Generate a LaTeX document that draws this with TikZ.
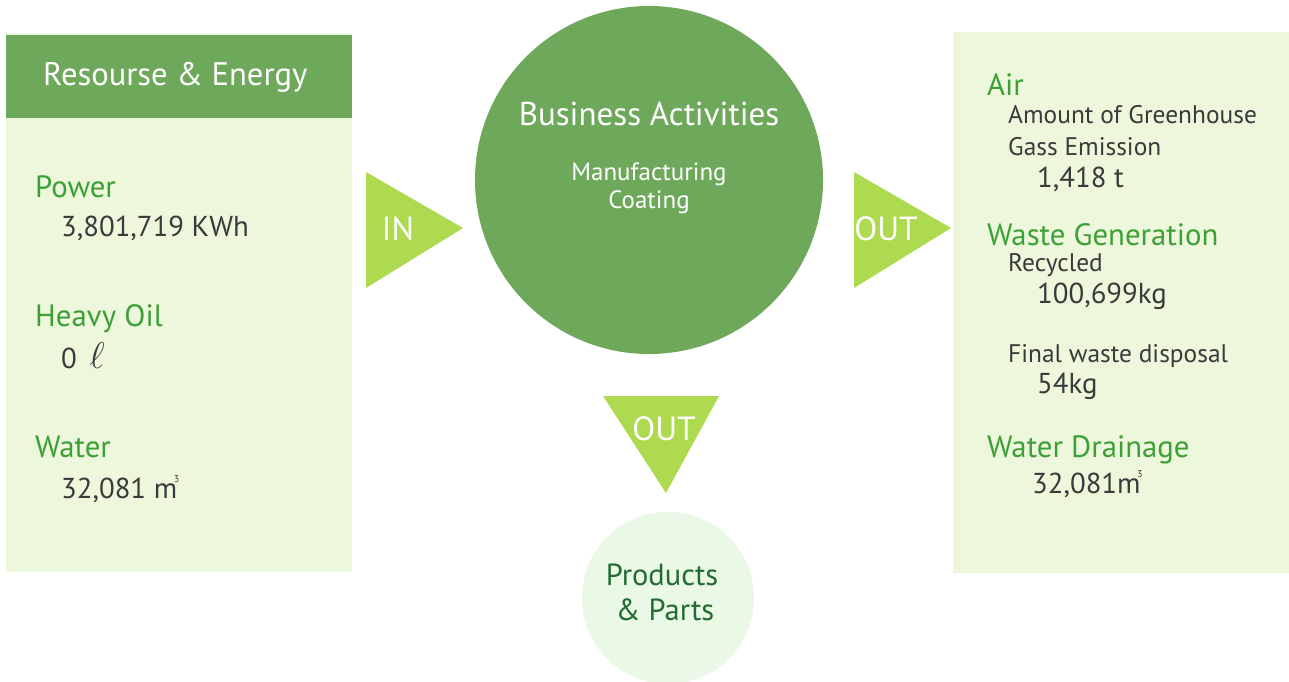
\documentclass[tikz,border=0pt]{standalone}
\usepackage{fontspec}
\setmainfont{PT Sans}
\definecolor{panelbg}{HTML}{EDF7DB}
\definecolor{darkgreen}{HTML}{6EA85B}
\definecolor{lime}{HTML}{ADDA4E}
\definecolor{headgreen}{HTML}{3DA036}
\definecolor{valgray}{HTML}{3A3A3A}
\definecolor{prodbg}{HTML}{EAF8E6}
\definecolor{prodtext}{HTML}{236B30}
\newcommand{\cubem}{m\kern-0.12em\raisebox{0.55em}{\fontsize{10}{10}\selectfont 3}}
\begin{document}
\begin{tikzpicture}[x=1pt,y=-1pt,
  panel/.style={fill=panelbg, draw=none, inner sep=0pt, anchor=north west},
  txt/.style={anchor=base west, inner sep=0pt},
  head/.style={txt, text=headgreen, font=\fontsize{30.8}{33}\selectfont},
  val/.style={txt, text=valgray, font=\fontsize{28.8}{31}\selectfont},
  sub/.style={txt, text=valgray, font=\fontsize{25.4}{28}\selectfont},
  arrowtri/.style={fill=lime, draw=none},
  arrlabel/.style={anchor=base, inner sep=0pt, text=white, font=\fontsize{33.5}{35}\selectfont}
]
\useasboundingbox (0,0) rectangle (1289,681);
\fill[white] (0,0) rectangle (1289,681);

% left panel
\node[panel, minimum width=346pt, minimum height=539pt] (left) at (6,33) {};
\node[panel, fill=darkgreen, minimum width=346pt, minimum height=83pt] (lefthead) at (6,35) {};
\node[txt, text=white, font=\fontsize{32.6}{35}\selectfont] (hdr) at (43,85) {Resourse \& Energy};
\node[head] (power) at (35,197) {Power};
\node[val] (powerv) at (61,236) {3,801,719 KWh};
\node[head] (oil) at (35,326) {Heavy Oil};
\node[val] (oilv) at (61,368) {0 \,\scalebox{1.5}{$\ell$}};
\node[head] (water) at (35,457) {Water};
\node[val] (waterv) at (61,498) {32,081 \cubem};

% right panel
\node[panel, minimum width=336pt, minimum height=541pt] (right) at (953,32) {};
\node[head] (air) at (987,95) {Air};
\node[sub] (airs1) at (1008,123) {Amount of Greenhouse};
\node[sub] (airs2) at (1008,155) {Gass Emission};
\node[val] (airv) at (1037,187) {1,418 t};
\node[head] (waste) at (987,245) {Waste Generation};
\node[sub] (rec) at (1008,271) {Recycled};
\node[val] (recv) at (1037,303) {100,699kg};
\node[sub] (fin) at (1008,362) {Final waste disposal};
\node[val] (finv) at (1037,393) {54kg};
\node[head] (drain) at (987,457) {Water Drainage};
\node[val] (drainv) at (1032,493) {32,081\cubem};

% business circle
\node[circle, fill=darkgreen, minimum size=348pt, inner sep=0pt] (biz) at (649,180) {};
\node[anchor=base, inner sep=0pt, text=white, font=\fontsize{33}{35}\selectfont] (biztitle) at (649,125) {Business Activities};
\node[anchor=base, inner sep=0pt, text=white, font=\fontsize{25}{27}\selectfont] (manu) at (649,180) {Manufacturing};
\node[anchor=base, inner sep=0pt, text=white, font=\fontsize{25}{27}\selectfont] (coat) at (649,208) {Coating};

% arrows
\coordinate (inA) at (366,172); \coordinate (inB) at (463,228); \coordinate (inC) at (366,288);
\fill[arrowtri] (inA) -- (inB) -- (inC) -- cycle;
\node[arrlabel] (inlbl) at (398,240) {IN};
\coordinate (oA) at (854,172); \coordinate (oB) at (951,228); \coordinate (oC) at (854,288);
\fill[arrowtri] (oA) -- (oB) -- (oC) -- cycle;
\node[arrlabel] (outlbl) at (886,240) {OUT};
\coordinate (dA) at (603,396); \coordinate (dB) at (719,396); \coordinate (dC) at (666,493);
\fill[arrowtri] (dA) -- (dB) -- (dC) -- cycle;
\node[arrlabel] (downlbl) at (664,440) {OUT};

% products circle
\node[circle, fill=prodbg, minimum size=172pt, inner sep=0pt] (prod) at (668,598) {};
\node[anchor=base, inner sep=0pt, text=prodtext, font=\fontsize{30.5}{32}\selectfont] (prod1) at (662,585) {Products};
\node[anchor=base, inner sep=0pt, text=prodtext, font=\fontsize{30.5}{32}\selectfont] (prod2) at (665,620) {\& Parts};
\end{tikzpicture}
\end{document}
